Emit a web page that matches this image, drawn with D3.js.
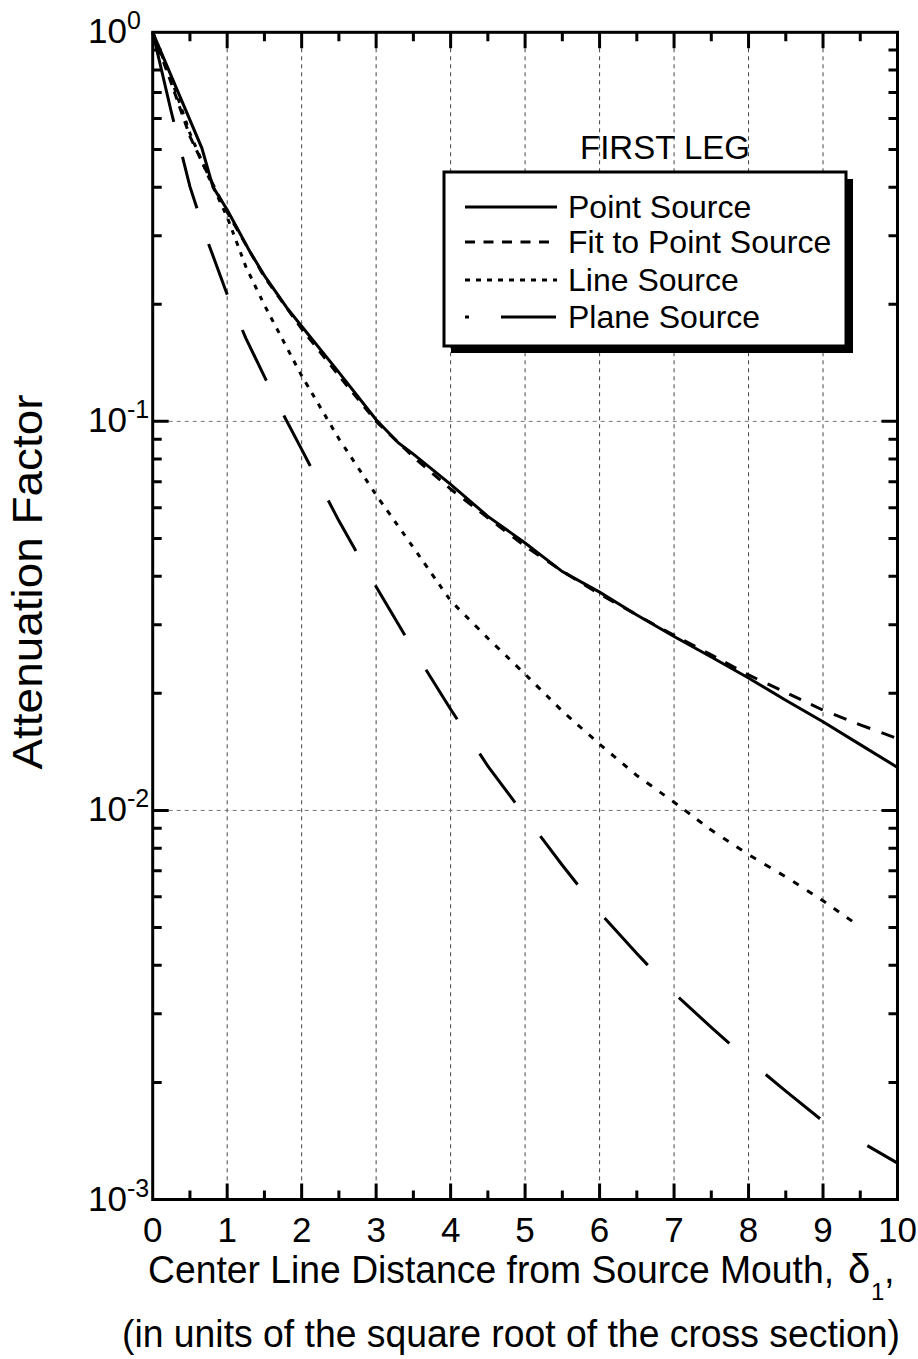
<!DOCTYPE html>
<html><head><meta charset="utf-8">
<script src="https://cdn.jsdelivr.net/npm/d3@7"></script>
<style>
body{margin:0;background:#fff}
text{font-family:"Liberation Sans",Arial,Helvetica,sans-serif;fill:#000}
</style>
</head><body>
<svg id="c" width="918" height="1359"></svg>
<script>
// ---- data ----
const pointX = [0, 0.66, 0.81, 1.0, 1.3, 1.5, 1.8, 2.0, 2.5, 3.0, 3.3, 3.5, 4.0, 4.5, 5.0, 5.5, 6.0, 6.5, 7.0, 7.5, 8.0, 8.5, 9.0, 9.5, 10];
const pointY = [1, 0.504, 0.40, 0.35, 0.274, 0.237, 0.196, 0.1756, 0.1336, 0.101, 0.088, 0.0824, 0.0689, 0.057, 0.0487, 0.0411, 0.0364, 0.0318, 0.028, 0.0248, 0.0219, 0.0192, 0.0169, 0.01476, 0.0129];
const fitX = [0, 0.25, 0.5, 0.75, 1, 1.5, 2, 2.5, 3, 3.5, 4, 4.5, 5, 5.5, 6, 6.5, 7, 7.5, 8, 8.5, 9, 9.5, 10];
const fitY = [1, 0.74, 0.54, 0.428, 0.345, 0.235, 0.173, 0.131, 0.100, 0.081, 0.067, 0.0565, 0.0478, 0.0412, 0.0360, 0.0318, 0.0282, 0.0251, 0.0223, 0.0201, 0.0181, 0.0166, 0.0153];
const lineX = [0, 0.25, 0.5, 0.75, 1, 1.25, 1.5, 2, 2.5, 3, 3.5, 4, 4.5, 5, 5.5, 6, 6.5, 7, 7.5, 8, 8.5, 9, 9.45];
const lineY = [1, 0.76, 0.55, 0.425, 0.335, 0.25, 0.199, 0.131, 0.0902, 0.0647, 0.0474, 0.0346, 0.0277, 0.0224, 0.0180, 0.0148, 0.0123, 0.0105, 0.0089, 0.0077, 0.00675, 0.00586, 0.0051];
const planeX = [0, 0.25, 0.5, 0.75, 1, 1.25, 1.5, 1.75, 2, 2.5, 3, 3.5, 4, 4.5, 5, 5.5, 6, 6.5, 7, 7.5, 8, 8.5, 9, 9.5, 10];
const planeY = [1, 0.624, 0.401, 0.286, 0.212, 0.1637, 0.1303, 0.1045, 0.0847, 0.0555, 0.0376, 0.0259, 0.0182, 0.0130, 0.00968, 0.00723, 0.00547, 0.00429, 0.00339, 0.00277, 0.00228, 0.0019, 0.00159, 0.00141, 0.00124];

const xTicks = [0,1,2,3,4,5,6,7,8,9,10];
const xMinor = [0.5,1.5,2.5,3.5,4.5,5.5,6.5,7.5,8.5,9.5];
const yDecades = [1e-3, 1e-2, 1e-1, 1];
const yExponents = ["-3","-2","-1","0"];
const seriesNames = ["Point Source", "Fit to Point Source", "Line Source", "Plane Source"];

// ---- layout ----
const L = 152.7, R = 897.5, T = 32.3, B = 1199.5;
const svg = d3.select("#c");
svg.append("rect").attr("width",918).attr("height",1359).attr("fill","#fff");

const x = d3.scaleLinear().domain([0,10]).range([L,R]);
const y = d3.scaleLog().domain([1e-3,1]).range([B,T]);

const yMinor = [];
[1e-3,1e-2,1e-1].forEach(d => { for (let k=2;k<=9;k++) yMinor.push(d*k); });

// grid
const grid = svg.append("g").attr("stroke-width",1).attr("stroke-dasharray","4,4").attr("fill","none");
xTicks.slice(1,-1).forEach(d=>{
  grid.append("path").attr("d",`M${x(d)},${T}V${B}`).attr("stroke","#444");
});
yDecades.slice(1,-1).forEach(d=>{
  grid.append("path").attr("d",`M${L},${y(d)}H${R}`).attr("stroke","#777");
});

// inward ticks on all four sides
const maj = 16, mnr = 9;
let td = "";
xTicks.slice(1,-1).forEach(d=>{ td += `M${x(d)},${B}v${-maj}M${x(d)},${T}v${maj}`; });
xMinor.forEach(d=>{ td += `M${x(d)},${B}v${-mnr}M${x(d)},${T}v${mnr}`; });
yDecades.slice(1,-1).forEach(d=>{ td += `M${L},${y(d)}h${maj}M${R},${y(d)}h${-maj}`; });
yMinor.forEach(d=>{ td += `M${L},${y(d)}h${mnr}M${R},${y(d)}h${-mnr}`; });
svg.append("path").attr("d",td).attr("fill","none").attr("stroke","#000").attr("stroke-width",3);

// x tick labels
xTicks.forEach(d=>{
  svg.append("text").attr("x",x(d)).attr("y",B+42).attr("text-anchor","middle").attr("font-size",35).text(d3.format("d")(d));
});

// y tick labels with superscripts
yDecades.forEach((d,i)=>{
  const t = svg.append("text").attr("x",88).attr("y",y(d)+11).attr("font-size",35);
  t.append("tspan").text("10");
  t.append("tspan").attr("dy",-14).attr("font-size",25).text(yExponents[i]);
});

// curves
const line = d3.line().x(d=>x(d[0])).y(d=>y(d[1]));
const zip = (a,b)=>a.map((v,i)=>[v,b[i]]);

// dash lengths measured along a horizontally compressed copy of the path (as in the original drawing)
function dashFor(node, first, pattern, k){
  const total = node.getTotalLength();
  let qi = 0;
  const next = () => (qi < first.length ? first[qi++] : pattern[(qi++ - first.length) % pattern.length]);
  let remaining = next(), start = 0, prev = node.getPointAtLength(0);
  const out = [];
  for (let s = 0.5; s <= total; s += 0.5) {
    const p = node.getPointAtLength(s);
    remaining -= Math.hypot((p.x-prev.x)/k, p.y-prev.y);
    prev = p;
    if (remaining <= 0) { out.push((s-start).toFixed(2)); start = s; remaining += next(); }
  }
  out.push((total-start+2).toFixed(2));
  if (out.length % 2) out.push("2000"); else out.push("0","2000");
  return out.join(",");
}

const series = [
  {data: zip(pointX,pointY), first: null},
  {data: zip(fitX,fitY), first: [], pat: [8,7]},
  {data: zip(lineX,lineY), first: [], pat: [4.5,6.7]},
  {data: zip(planeX,planeY), first: [90,35], pat: [52,36]}
];
series.forEach(s=>{
  const p = svg.append("path").attr("d",line(s.data)).attr("fill","none").attr("stroke","#000")
    .attr("stroke-width",3);
  if (s.first) p.attr("stroke-dasharray", dashFor(p.node(), s.first, s.pat, 2));
});

// frame
svg.append("rect").attr("x",L).attr("y",T).attr("width",R-L).attr("height",B-T)
  .attr("fill","none").attr("stroke","#000").attr("stroke-width",3);

// FIRST LEG
svg.append("text").attr("x",665).attr("y",159).attr("text-anchor","middle").attr("font-size",33).text("FIRST LEG");

// legend
svg.append("rect").attr("x",451).attr("y",179).attr("width",402).attr("height",174).attr("fill","#000");
svg.append("rect").attr("x",444).attr("y",172).attr("width",402).attr("height",174).attr("fill","#fff").attr("stroke","#000").attr("stroke-width",3);
const legDash = [null, "10,8.5", "5,6", "4,32,55,40"];
const legY = [207, 242, 280, 317];
seriesNames.forEach((n,i)=>{
  svg.append("path").attr("d",`M465,${legY[i]}H557`).attr("fill","none")
    .attr("stroke","#000").attr("stroke-width",3).attr("stroke-dasharray",legDash[i]);
  svg.append("text").attr("x",568).attr("y",legY[i]+11).attr("font-size",32).text(n);
});

// axis titles
svg.append("text").attr("transform","translate(42,582) rotate(-90)").attr("text-anchor","middle")
  .attr("font-size",43).attr("textLength",375).attr("lengthAdjust","spacingAndGlyphs").text("Attenuation Factor");
svg.append("text").attr("x",148).attr("y",1283).attr("font-size",38)
  .attr("textLength",686).attr("lengthAdjust","spacingAndGlyphs").text("Center Line Distance from Source Mouth,");
svg.append("text").attr("x",848).attr("y",1283).attr("font-size",40)
  .attr("font-family",'"Liberation Serif","Times New Roman",serif').text("δ");
svg.append("text").attr("x",871).attr("y",1300).attr("font-size",24)
  .attr("font-family",'"Liberation Serif","Times New Roman",serif').text("1");
svg.append("text").attr("x",884).attr("y",1283).attr("font-size",38).text(",");
svg.append("text").attr("x",122).attr("y",1347).attr("font-size",38)
  .attr("textLength",778).attr("lengthAdjust","spacingAndGlyphs")
  .text("(in units of the square root of the cross section)");
</script>
</body></html>
